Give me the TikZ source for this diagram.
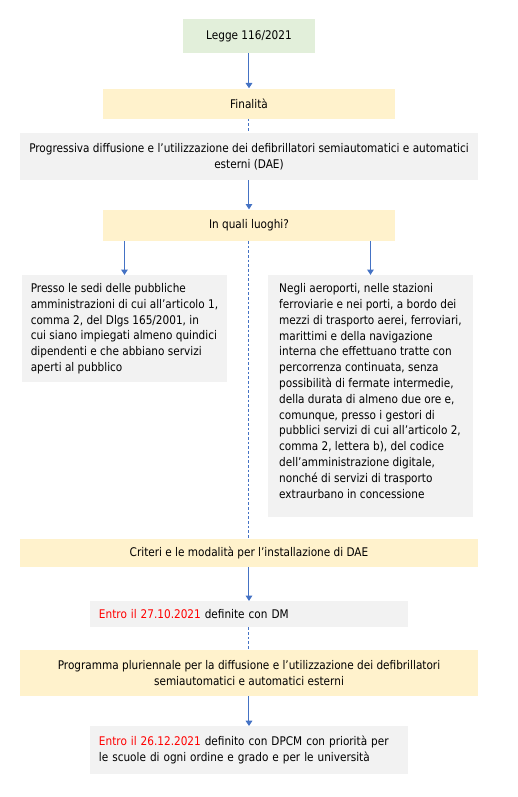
\documentclass[tikz,border=0pt]{standalone}
\usepackage{fontspec}
\setmainfont{DejaVu Sans}[FakeStretch=0.88]
\usetikzlibrary{arrows.meta, positioning}
\definecolor{boxgreen}{HTML}{E2EFDA}
\definecolor{boxyellow}{HTML}{FFF2CC}
\definecolor{boxgray}{HTML}{F2F2F2}
\definecolor{lineblue}{HTML}{4472C4}
\tikzstyle{line} = [draw=lineblue, line width=0.75pt, -{Triangle[width=5pt,length=4pt]}]

\begin{document}
\begin{tikzpicture}[auto, every node/.style={font=\fontsize{8.95}{11.85}\selectfont}]
  % Define styles
  \tikzstyle{greenbox} = [rectangle, minimum width=99pt, minimum height=25.5pt, text centered, fill=boxgreen]
  \tikzstyle{yellowbox} = [rectangle, minimum width=219pt, minimum height=22.5pt, text centered, fill=boxyellow]
  \tikzstyle{widebox} = [rectangle, minimum width=343.5pt, align=center, fill=boxyellow]
  \tikzstyle{graybox} = [rectangle, minimum width=343.5pt, align=center, fill=boxgray]
  \tikzstyle{sidebox} = [rectangle, minimum width=153.75pt, align=left, fill=boxgray]
  \tikzstyle{datebox} = [rectangle, inner xsep=6.75pt, text width=225pt, align=left, fill=boxgray]
  \tikzstyle{dashline} = [draw=lineblue, line width=0.75pt, dash pattern=on 2pt off 1.5pt]
  \useasboundingbox (-186.75pt,27pt) rectangle (201.75pt,-570.75pt);

  % Place nodes
  \node [greenbox] (legge) {Legge 116/2021};
  \node [yellowbox, below=26.25pt of legge] (finalita) {Finalità};
  \node [graybox, minimum height=35.25pt, below=10.5pt of finalita] (progressiva) {Progressiva diffusione e l’utilizzazione dei defibrillatori semiautomatici e automatici\\esterni (DAE)};
  \node [yellowbox, minimum height=23.25pt, below=21.75pt of progressiva] (luoghi) {In quali luoghi?};
  \node [sidebox, minimum height=80.25pt, anchor=north] (sedi) at ([xshift=-93.4pt, yshift=-25.5pt]luoghi.south) {Presso le sedi delle pubbliche\\amministrazioni di cui all’articolo 1,\\comma 2, del Dlgs 165/2001, in\\cui siano impiegati almeno quindici\\dipendenti e che abbiano servizi\\aperti al pubblico};
  \node [sidebox, minimum height=181.5pt, anchor=north] (aeroporti) at ([xshift=91.1pt, yshift=-25.5pt]luoghi.south) {Negli aeroporti, nelle stazioni\\ferroviarie e nei porti, a bordo dei\\mezzi di trasporto aerei, ferroviari,\\marittimi e della navigazione\\interna che effettuano tratte con\\percorrenza continuata, senza\\possibilità di fermate intermedie,\\della durata di almeno due ore e,\\comunque, presso i gestori di\\pubblici servizi di cui all’articolo 2,\\comma 2, lettera b), del codice\\dell’amministrazione digitale,\\nonché di servizi di trasporto\\extraurbano in concessione\\[-4pt]\mbox{}};
  \coordinate (gap) at (aeroporti.south -| legge);
  \node [widebox, minimum height=21pt, below=15.75pt of gap] (criteri) {Criteri e le modalità per l’installazione di DAE};
  \node [datebox, minimum height=19.5pt, below=25.5pt of criteri] (entrodm) {\textcolor{red}{Entro il 27.10.2021} definite con DM};
  \node [widebox, minimum height=34.5pt, below=16.5pt of entrodm] (programma) {Programma pluriennale per la diffusione e l’utilizzazione dei defibrillatori\\semiautomatici e automatici esterni};
  \node [datebox, minimum height=36pt, below=22.5pt of programma] (entrodpcm) {\textcolor{red}{Entro il 26.12.2021} definito con DPCM con priorità per\\le scuole di ogni ordine e grado e per le università};

  % Draw edges
  \path [line] (legge) -- (finalita);
  \path [dashline] (finalita) -- (progressiva);
  \path [line] (progressiva) -- (luoghi);
  \path [line] (luoghi.south -| sedi) -- (sedi);
  \path [line] (luoghi.south -| aeroporti) -- (aeroporti);
  \path [dashline] (luoghi) -- (criteri);
  \path [line] (criteri) -- (entrodm);
  \path [dashline] (entrodm) -- (programma);
  \path [line] (programma) -- (entrodpcm);
\end{tikzpicture}
\end{document}
